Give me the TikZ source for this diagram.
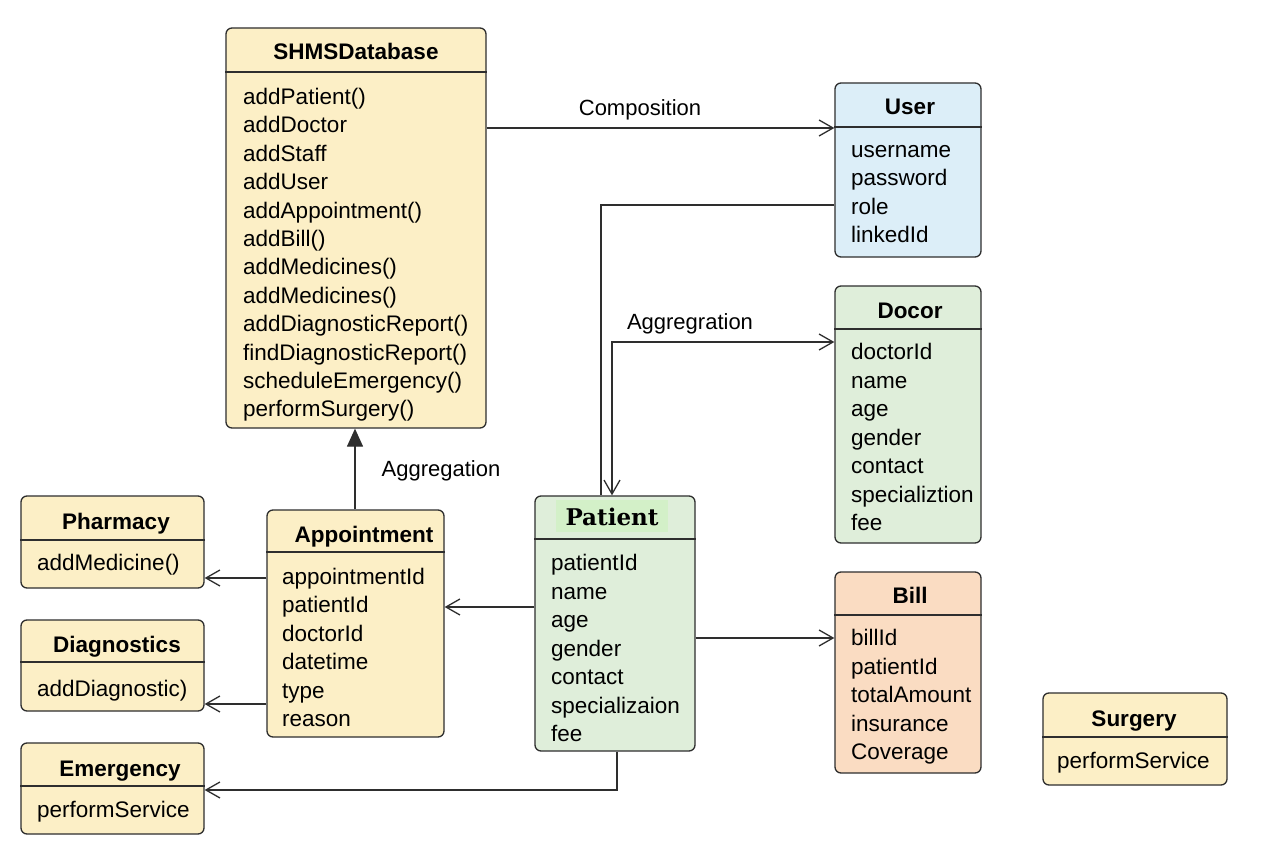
\documentclass[tikz,border=0pt]{standalone}
\usepackage{fontspec}
\setmainfont{Liberation Sans}
\newfontfamily\patientfont{DejaVu Serif}
\usetikzlibrary{arrows.meta}
\definecolor{cyellow}{HTML}{FCEFC6}
\definecolor{cgreen}{HTML}{DFEEDA}
\definecolor{cblue}{HTML}{DCEEF8}
\definecolor{corange}{HTML}{FADCC2}
\definecolor{chl}{HTML}{D3F0C8}
\definecolor{linegray}{HTML}{2E2E2E}
\tikzset{
  classbox/.style={rectangle, draw=linegray, line width=1.3pt, rounded corners=6pt, inner sep=0pt},
  divider/.style={draw=linegray, line width=1.3pt},
  ctitle/.style={font=\fontsize{22.5}{27}\selectfont\bfseries, anchor=base, inner sep=0pt, yshift=-1.5pt},
  citem/.style={font=\fontsize{22.5}{27}\selectfont, anchor=base west, inner sep=0pt, yshift=-1.5pt},
  lbl/.style={font=\fontsize{22}{27}\selectfont, anchor=base, inner sep=0pt, yshift=-1.5pt},
  conn/.style={draw=linegray, line width=1.3pt},
  openarrow/.style={conn, -{Straight Barb[length=14pt,width=16pt]}},
  bothopen/.style={conn, {Straight Barb[length=14pt,width=16pt]}-{Straight Barb[length=14pt,width=16pt]}},
  filledarrow/.style={conn, -{Triangle[length=18pt,width=16pt]}},
}
\newcommand\umlbox[7]{%
  \node[classbox, fill=#7, minimum width={#4-#2}, minimum height={#5-#3}] (#1) at ({(#2+#4)/2},{(#3+#5)/2}) {};
  \draw[divider] (#1.west |- 0,#6) -- (#1.east |- 0,#6);
}
\newcommand\umlitems[5]{%
  \foreach \t [count=\i] in {#5} \node[citem] (#1-\i) at (#2,{#3+(\i-1)*#4}) {\t};
}
\begin{document}
\begin{tikzpicture}[x=1pt,y=-1pt]
\useasboundingbox (0,0) rectangle (1280,853);
\fill[white] (0,0) rectangle (1280,853);

% SHMSDatabase
\umlbox{shms}{226}{28}{486}{428}{72}{cyellow}
\node[ctitle] (shmst) at (356,58) {SHMSDatabase};
\umlitems{shmsi}{243}{103}{28.4}{addPatient(),addDoctor,addStaff,addUser,addAppointment(),addBill(),addMedicines(),addMedicines(),addDiagnosticReport(),findDiagnosticReport(),scheduleEmergency(),performSurgery()}

% User
\umlbox{user}{835}{83}{981}{257}{127}{cblue}
\node[ctitle] (usert) at (910,113) {User};
\umlitems{useri}{851}{156}{28.3}{username,password,role,linkedId}

% Docor
\umlbox{docor}{835}{286}{981}{543}{329}{cgreen}
\node[ctitle] (docort) at (910,317) {Docor};
\umlitems{docori}{851}{358}{28.5}{doctorId,name,age,gender,contact,specializtion,fee}

% Bill
\umlbox{bill}{835}{572}{981}{773}{615}{corange}
\node[ctitle] (billt) at (910,602) {Bill};
\umlitems{billi}{851}{644}{28.5}{billId,patientId,totalAmount,insurance,Coverage}

% Surgery
\umlbox{surg}{1043}{693}{1227}{785}{737}{cyellow}
\node[ctitle] (surgt) at (1134,725) {Surgery};
\umlitems{surgi}{1057}{767}{28.5}{performService}

% Patient
\umlbox{patient}{535}{496}{695}{751}{539}{cgreen}
\fill[chl] (556,500) rectangle (668,532);
\node[ctitle, font=\fontsize{23}{27}\selectfont\patientfont\bfseries] (patientt) at (612,524) {Patient};
\umlitems{patienti}{551}{569}{28.5}{patientId,name,age,gender,contact,specializaion,fee}

% Appointment
\umlbox{appt}{267}{510}{444}{737}{552}{cyellow}
\node[ctitle] (apptt) at (364,541) {Appointment};
\umlitems{appti}{282}{583}{28.4}{appointmentId,patientId,doctorId,datetime,type,reason}

% Pharmacy
\umlbox{pharm}{21}{496}{204}{588}{540}{cyellow}
\node[ctitle] (pharmt) at (116,528) {Pharmacy};
\umlitems{pharmi}{37}{569}{28.5}{addMedicine()}

% Diagnostics
\umlbox{diag}{21}{620}{204}{711}{662}{cyellow}
\node[ctitle] (diagt) at (117,651) {Diagnostics};
\umlitems{diagi}{37}{695}{28.5}{addDiagnostic)}

% Emergency
\umlbox{emerg}{21}{743}{204}{834}{786}{cyellow}
\node[ctitle] (emergt) at (120,775) {Emergency};
\umlitems{emergi}{37}{816}{28.5}{performService}

% Connectors
\draw[openarrow] (shms.east |- 0,128) -- (user.west |- 0,128);
\node[lbl] (complbl) at (640,114) {Composition};

\draw[conn] (user.west |- 0,205) -| (patient.north -| 601,0);

\draw[bothopen] (patient.north -| 612,0) |- (docor.west |- 0,342);
\node[lbl] (aggr1) at (690,328) {Aggregration};

\draw[filledarrow] (appt.north -| 355,0) -- (shms.south -| 355,0);
\node[lbl] (aggr2) at (441,475) {Aggregation};

\draw[openarrow] (appt.west |- 0,578) -- (pharm.east |- 0,578);
\draw[openarrow] (appt.west |- 0,704) -- (diag.east |- 0,704);
\draw[openarrow] (patient.west |- 0,607) -- (appt.east |- 0,607);
\draw[openarrow] (patient.east |- 0,638) -- (bill.west |- 0,638);
\draw[openarrow] (patient.south -| 617,0) |- (emerg.east |- 0,790);
\end{tikzpicture}
\end{document}
